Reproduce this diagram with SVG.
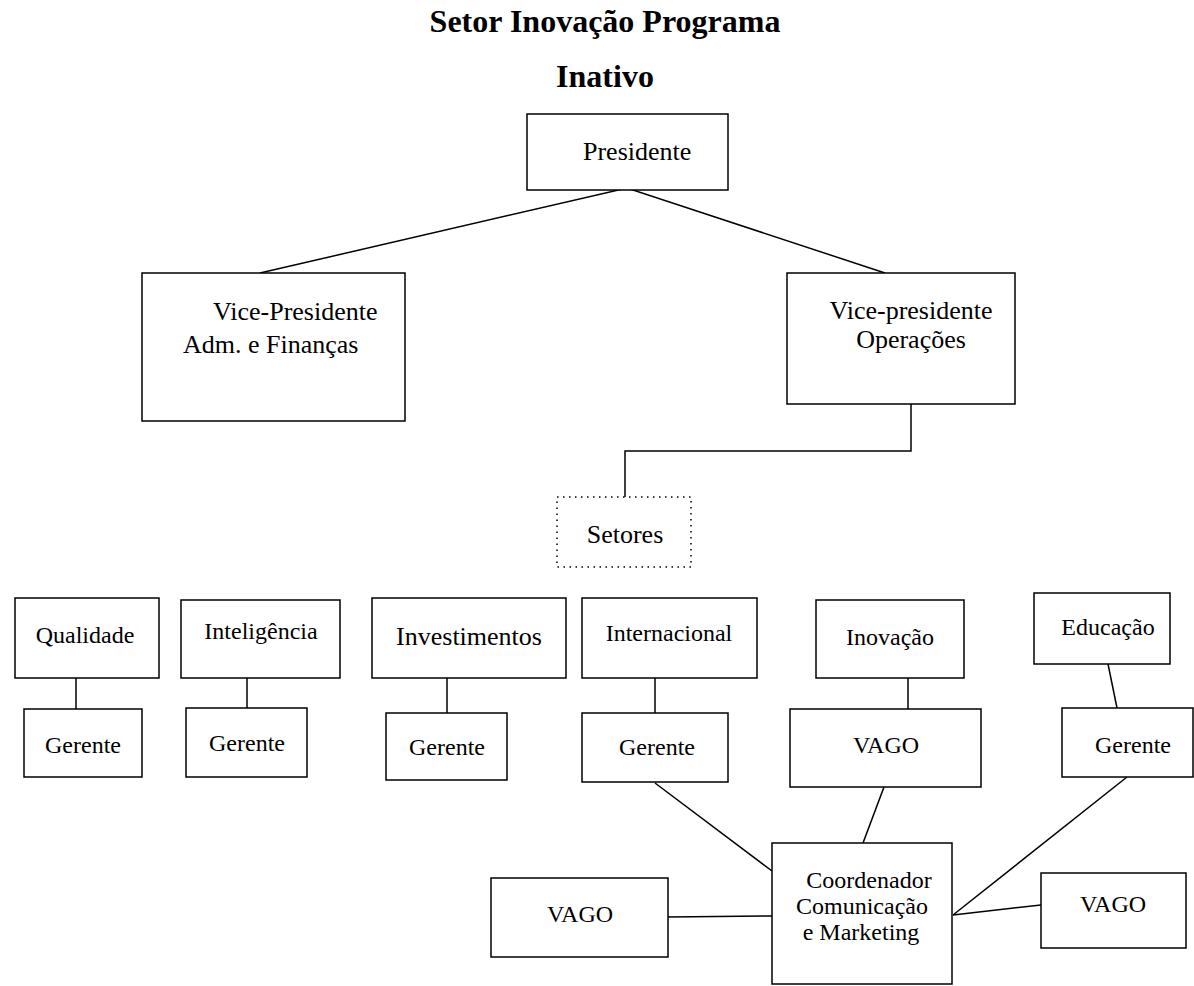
<svg xmlns="http://www.w3.org/2000/svg" width="1194" height="986" viewBox="0 0 1194 986">
<style>
.box{fill:#fff;stroke:#000;stroke-width:1.5}
.dot{fill:#fff;stroke:#000;stroke-width:1.5;stroke-dasharray:1.5 4.5}
.ln{fill:none;stroke:#000;stroke-width:1.5}
text{font-family:"Liberation Serif","Times New Roman",serif;fill:#000}
.t{font-size:32px;font-weight:bold;text-anchor:middle}
.l{font-size:26px}
.s{font-size:24px}
.m{text-anchor:middle}
</style>
<rect width="1194" height="986" fill="#fff"/>
<text class="t" x="605" y="32">Setor Inovação Programa</text>
<text class="t" x="605" y="87">Inativo</text>
<g id="connectors">
<polyline class="ln" points="260,273 627,188 885,273"/>
<polyline class="ln" points="911,404 911,451 625,451 625,497"/>
<line class="ln" x1="76" y1="678" x2="76" y2="709"/>
<line class="ln" x1="247" y1="678" x2="247" y2="708"/>
<line class="ln" x1="447" y1="678" x2="447" y2="713"/>
<line class="ln" x1="655" y1="678" x2="655" y2="713"/>
<line class="ln" x1="908" y1="678" x2="908" y2="709"/>
<line class="ln" x1="1108" y1="664" x2="1117" y2="708"/>
<line class="ln" x1="655" y1="783" x2="772" y2="871"/>
<line class="ln" x1="884" y1="787" x2="863" y2="843"/>
<line class="ln" x1="1127" y1="777" x2="953" y2="915"/>
<line class="ln" x1="953" y1="915" x2="1041" y2="905"/>
<line class="ln" x1="668" y1="917" x2="772" y2="916"/>
</g>
<g id="presidente"><rect class="box" x="527" y="114" width="201" height="76"/><text class="l" x="583" y="160">Presidente</text></g>
<g id="vp-adm"><rect class="box" x="142" y="273" width="263" height="148"/><text class="l" x="213" y="320">Vice-Presidente</text><text class="l" x="183" y="353">Adm. e Finanças</text></g>
<g id="vp-op"><rect class="box" x="787" y="273" width="228" height="131"/><text class="l m" x="911" y="319">Vice-presidente</text><text class="l m" x="911" y="348">Operações</text></g>
<g id="setores"><rect class="dot" x="557" y="497" width="134" height="70"/><text class="l m" x="625" y="543">Setores</text></g>
<g id="qualidade"><rect class="box" x="15" y="598" width="144" height="80"/><text class="s m" x="85" y="643">Qualidade</text></g>
<g id="inteligencia"><rect class="box" x="181" y="600" width="159" height="78"/><text class="s m" x="261" y="639">Inteligência</text></g>
<g id="investimentos"><rect class="box" x="372" y="598" width="194" height="80"/><text class="l m" x="469" y="645">Investimentos</text></g>
<g id="internacional"><rect class="box" x="582" y="598" width="175" height="80"/><text class="s m" x="669" y="641">Internacional</text></g>
<g id="inovacao"><rect class="box" x="816" y="600" width="148" height="78"/><text class="s m" x="890" y="645">Inovação</text></g>
<g id="educacao"><rect class="box" x="1034" y="593" width="136" height="71"/><text class="s m" x="1108" y="635">Educação</text></g>
<g id="gerente-qualidade"><rect class="box" x="24" y="709" width="118" height="68"/><text class="s m" x="83" y="753">Gerente</text></g>
<g id="gerente-inteligencia"><rect class="box" x="186" y="708" width="121" height="69"/><text class="s m" x="247" y="751">Gerente</text></g>
<g id="gerente-investimentos"><rect class="box" x="386" y="713" width="121" height="67"/><text class="s m" x="447" y="755">Gerente</text></g>
<g id="gerente-internacional"><rect class="box" x="582" y="713" width="146" height="69"/><text class="s m" x="657" y="755">Gerente</text></g>
<g id="vago-inovacao"><rect class="box" x="790" y="709" width="191" height="78"/><text class="s m" x="886" y="753">VAGO</text></g>
<g id="gerente-educacao"><rect class="box" x="1062" y="708" width="131" height="69"/><text class="s m" x="1133" y="753">Gerente</text></g>
<g id="coordenador"><rect class="box" x="772" y="843" width="180" height="141"/><text class="s m" x="869" y="888">Coordenador</text><text class="s m" x="862" y="914">Comunicação</text><text class="s m" x="861" y="940">e Marketing</text></g>
<g id="vago-left"><rect class="box" x="491" y="878" width="177" height="79"/><text class="s m" x="580" y="922">VAGO</text></g>
<g id="vago-right"><rect class="box" x="1041" y="873" width="145" height="75"/><text class="s m" x="1113" y="912">VAGO</text></g>
</svg>
